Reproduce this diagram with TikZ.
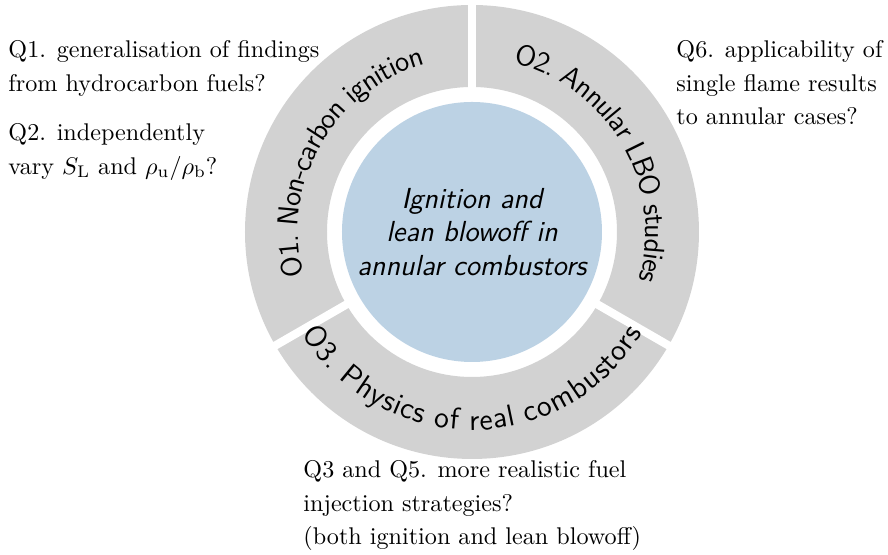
\documentclass[tikz,border=0pt]{standalone}
\usetikzlibrary{decorations.text}
\definecolor{ringgray}{RGB}{210,210,210}
\definecolor{coreblue}{RGB}{188,210,228}
\tikzset{
  question/.style={anchor=north west, inner sep=0pt, align=left,
    font=\fontsize{10}{13.9}\selectfont},
  ringlabel/.style n args={3}{decorate, decoration={text along path, text align=center,
    raise=#2, text={|\sffamily\fontsize{#3}{15}\selectfont|#1}}},
  separator/.style={white, line width=3.4pt},
}
\begin{document}
\begin{tikzpicture}[x=0.41408pt, y=0.41408pt]
  \useasboundingbox (-472,-323) rectangle (416,232);

  % outer ring, split into three objectives
  \fill[ringgray, even odd rule] (0,0) circle (227) (0,0) circle (145);
  \foreach \a in {90,210,330}
    \draw[separator] (\a:138) -- (\a:232);

  % central theme
  \fill[coreblue] (0,0) circle (130);
  \node[align=center, font=\sffamily\itshape\large] (core) at (0,0)
    {Ignition and\\lean blowoff in\\annular combustors};

  % objective labels following the ring
  \path[ringlabel={O1. Non-carbon ignition}{-5pt}{12}]
    (210:186) arc[start angle=210, end angle=90, radius=186];
  \path[ringlabel={O2. Annular LBO studies}{-5pt}{12}]
    (90:186) arc[start angle=90, end angle=-30, radius=186];
  \path[ringlabel={O3. Physics of real combustors}{-5pt}{12.6}]
    (210:186) arc[start angle=210, end angle=330, radius=186];

  % research questions
  \node[question] (q1) at (-464,192)
    {Q1. generalisation of findings\\from hydrocarbon fuels?};
  \node[question] (q2) at (-464,109)
    {Q2. independently\\vary $S_\mathrm{L}$ and $\rho_\mathrm{u}/\rho_\mathrm{b}$?};
  \node[question] (q6) at (204,192)
    {Q6. applicability of\\single flame results\\to annular cases?};
  \node[question] (q3) at (-169,-228)
    {Q3 and Q5. more realistic fuel\\injection strategies?\\(both ignition and lean blowoff)};
\end{tikzpicture}
\end{document}
